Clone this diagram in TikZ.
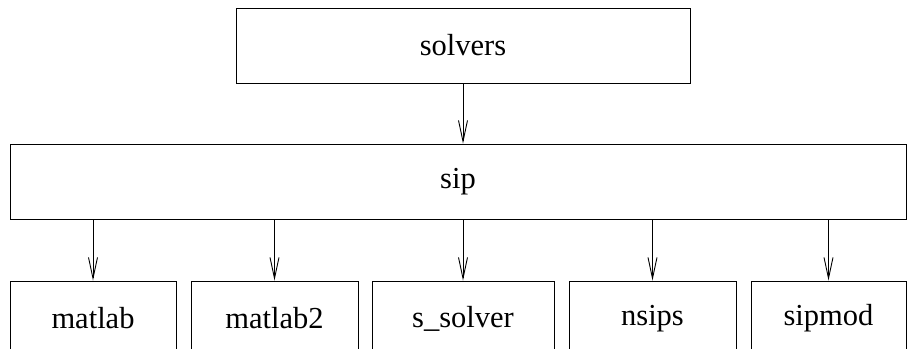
\documentclass[tikz,border=0pt]{standalone}
\usepackage{fontspec}
\setmainfont{Liberation Serif}
\usetikzlibrary{arrows.meta}

\begin{document}
\begin{tikzpicture}[
    x=1pt, y=-1pt, % one unit per pixel, y going down
    every node/.style={font=\fontsize{30.5}{36}\selectfont},
    dir box/.style={draw, line width=0.9pt, inner sep=0pt, minimum height=75pt},
    link/.style={-{Straight Barb[length=21pt, width=9pt]}, line width=0.9pt}
]

    % --- 1. FRAME ---
    \useasboundingbox (0,0) rectangle (907,348);
    \clip (0,0) rectangle (907,348);

    \def\topY{45.5}
    \def\midY{181.5}
    \def\lowY{318.5}

    % --- 2. TOP LEVELS ---
    \node[dir box, minimum width=454pt] (solvers) at (463,\topY) {solvers};
    \node[dir box, minimum width=896pt] (sip) at (458,\midY) {sip};
    \draw[link] (solvers) -- (sip.north -| solvers);

    % --- 3. SUBDIRECTORIES (centre / width / name / text) ---
    \foreach \cx/\w/\id/\txt in {93/166/matlab/matlab,
                                 274.5/167/matlabtwo/matlab2,
                                 463/182/ssolver/s\_solver,
                                 652.5/167/nsips/nsips,
                                 828.5/155/sipmod/sipmod}{
        \node[dir box, minimum width=\w pt] (\id) at (\cx,\lowY) {\txt};
        \draw[link] (sip.south -| \id) -- (\id);
    }

\end{tikzpicture}
\end{document}
